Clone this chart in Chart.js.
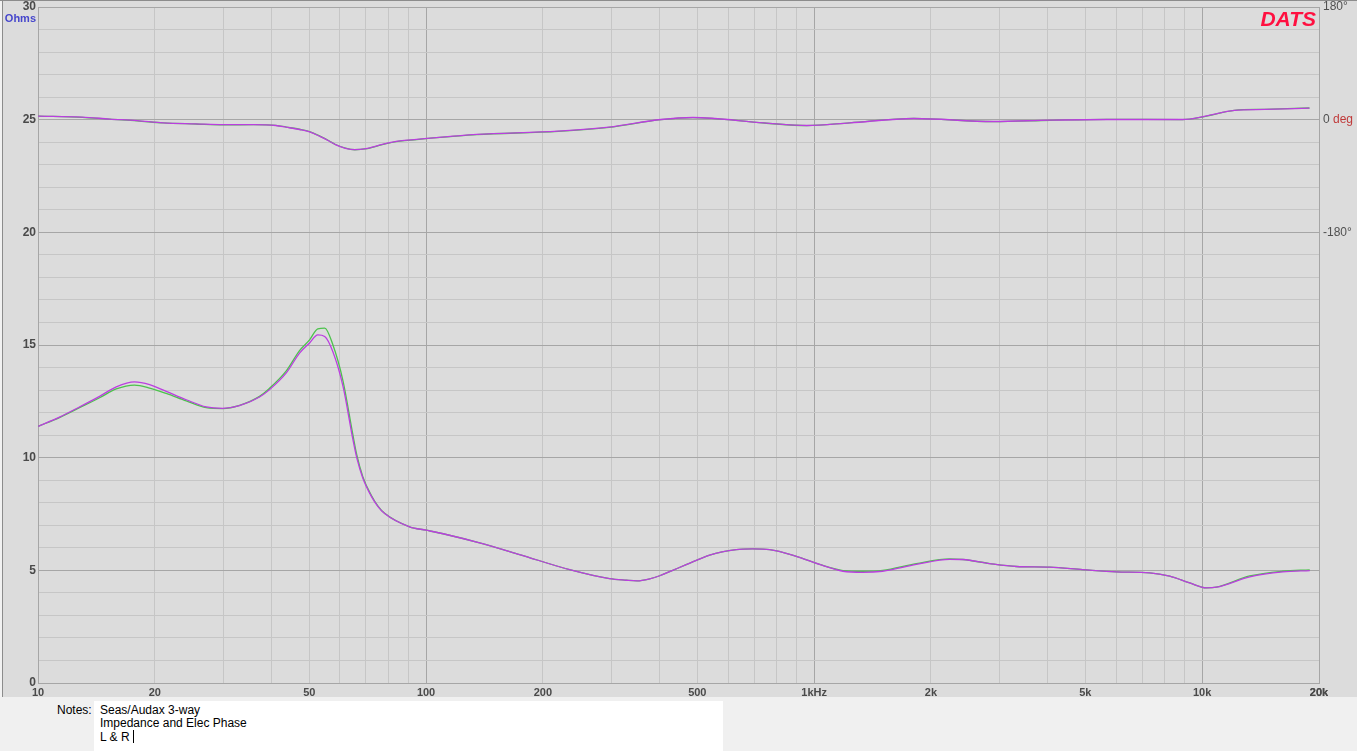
<!DOCTYPE html>
<html>
<head>
<meta charset="utf-8">
<title>Seas/Audax 3-way - Impedance and Elec Phase</title>
<script src="https://cdn.jsdelivr.net/npm/chart.js@4.4.0/dist/chart.umd.min.js"></script>
<style>
  html, body { margin: 0; padding: 0; background: #f0f0f0; }
  #chart-wrap { position: relative; width: 1357px; height: 697px; background: #dcdcdc; }
  #notes { position: relative; width: 1357px; height: 54px; font: 12px 'Liberation Sans', Arial, sans-serif; color: #000; }
  .notes-label { position: absolute; left: 57px; top: 7px; line-height: 13px; }
  .notes-box { position: absolute; left: 94px; top: 4px; width: 623px; height: 47px; background: #fff; padding: 3px 0 0 6px; line-height: 13px; }
  .caret { display: inline-block; width: 1px; height: 13px; background: #000; vertical-align: -2px; margin-left: 3px; }
</style>
</head>
<body>
<div id="chart-wrap"><canvas id="impChart"></canvas></div>
<div id="notes">
  <div class="notes-label">Notes:</div>
  <div class="notes-box">Seas/Audax 3-way<br>Impedance and Elec Phase<br>L &amp; R<span class="caret"></span></div>
</div>

<script>
/* ---------- Data ---------- */

// impedance sweep, Hz
const impFreq = [10, 11.36, 12.79, 14.41, 15.91, 17.73, 19.39, 21.4, 24.1, 27.14,
  29.95, 33.06, 37.23, 39.52, 43.63, 47.2, 50.1, 52.6, 54.8, 57.5,
  61.1, 64.8, 66.3, 68.7, 72.3, 75.1, 78.2, 90.7, 100.1, 112.7,
  137.4, 174.2, 234.4, 297, 328, 350, 375, 400, 432, 468,
  538, 630, 694, 768, 900, 1033, 1187, 1334, 1501, 1834,
  2235, 2418, 2834, 3319, 4046, 4920, 6010, 7322, 8247, 9286,
  10250, 10880, 13260, 16130, 18930];

// impedance, ohms (R = magenta, L = green)
const impRight = [11.39, 11.8, 12.25, 12.72, 13.14, 13.36, 13.24, 12.94, 12.57, 12.25,
  12.19, 12.31, 12.69, 13.02, 13.76, 14.64, 15.09, 15.45, 15.38, 14.71,
  13.16, 10.8, 9.99, 9.1, 8.28, 7.84, 7.52, 6.93, 6.78, 6.59,
  6.22, 5.7, 5.03, 4.63, 4.56, 4.53, 4.61, 4.76, 5.0, 5.25,
  5.68, 5.92, 5.95, 5.92, 5.62, 5.26, 4.96, 4.91, 4.96, 5.26,
  5.49, 5.48, 5.3, 5.17, 5.14, 5.03, 4.93, 4.89, 4.74, 4.44,
  4.22, 4.25, 4.71, 4.93, 4.99];
const impLeft = [11.39, 11.78, 12.22, 12.66, 13.05, 13.22, 13.09, 12.85, 12.52, 12.22,
  12.18, 12.32, 12.72, 13.08, 13.85, 14.75, 15.23, 15.72, 15.75, 15.02,
  13.4, 11.0, 10.12, 9.16, 8.32, 7.86, 7.53, 6.93, 6.78, 6.59,
  6.22, 5.7, 5.03, 4.63, 4.56, 4.53, 4.61, 4.76, 5.0, 5.25,
  5.68, 5.92, 5.95, 5.92, 5.62, 5.26, 4.99, 4.96, 5.0, 5.3,
  5.51, 5.48, 5.3, 5.17, 5.14, 5.03, 4.93, 4.89, 4.74, 4.44,
  4.22, 4.25, 4.75, 4.96, 5.02];

// electrical phase, degrees
const phaseFreq = [10, 13.0, 15.3, 18.0, 21.0, 25.5, 30.0, 36.0, 41.0, 43.6,
  47.2, 50.1, 53.1, 56.2, 58.4, 62.0, 65.5, 69.9, 77.1, 85.6,
  94.6, 104.5, 115.5, 135, 219, 296, 403, 487, 743, 958,
  1236, 1806, 2897, 4060, 5690, 8900, 10200, 12100, 14500, 18900];
const phaseRight = [5.6, 4.0, 1.0, -1.5, -5.0, -6.7, -8.0, -7.8, -9.3, -12.0,
  -15.7, -19.4, -26.3, -34.0, -40.0, -45.8, -47.8, -46.3, -39.5, -34.0,
  -31.6, -29.0, -26.8, -23.6, -18.4, -12.0, 0.3, 3.5, -5.1, -9.3,
  -5.1, 1.9, -2.9, -0.8, 0.3, 0.3, 5.6, 14.7, 16.3, 18.4];
const phaseLeft = [5.6, 3.8, 0.8, -1.8, -5.2, -6.9, -8.2, -8.0, -9.1, -11.8,
  -15.3, -19.0, -26.0, -33.7, -39.7, -45.5, -48.1, -46.8, -39.8, -34.3,
  -31.8, -29.2, -27.0, -23.9, -18.6, -12.2, 0.0, 3.3, -5.3, -9.6,
  -5.0, 2.2, -3.2, -1.0, 0.6, 0.2, 5.4, 14.9, 16.6, 18.6];

// axes
const xLabelValues = [10, 20, 50, 100, 200, 500, 1000, 2000, 5000, 10000, 20000];
const xLabelText = ['10', '20', '50', '100', '200', '500', '1kHz', '2k', '5k', '10k', '20k'];
const phaseTickValues = [-180, 0, 180];
const phaseTickText = ['-180°', '0', '180°'];

/* ---------- Helpers ---------- */

const FONT = "'Liberation Sans', Arial, sans-serif";
const GRID_MINOR = '#c6c6c6';
const GRID_MAJOR = '#a6a6a6';
const GREEN = '#4cc24c';
const MAGENTA = '#bb3ee0';

function toPoints(xs, ys) {
  return xs.map((x, i) => ({ x: x, y: ys[i] }));
}

// gridlines at 1..9 x each decade, plus the 20k edge
function freqGrid() {
  const out = [];
  for (let d = 10; d <= 10000; d *= 10) {
    for (let m = 1; m <= 9; m++) out.push(d * m);
  }
  out.push(20000);
  return out;
}

function isDecade(v) {
  const l = Math.log10(v);
  return Math.abs(l - Math.round(l)) < 1e-6;
}

// keep the plot box fixed: no extra room for half-labels at the ends
function noEdgePadding(scale) {
  scale.paddingTop = 0;
  scale.paddingBottom = 0;
  scale.paddingLeft = 0;
  scale.paddingRight = 0;
}

function lineSet(label, data, color, axis, order) {
  return {
    label: label,
    data: data,
    yAxisID: axis,
    borderColor: color,
    borderWidth: 1.3,
    pointRadius: 0,
    fill: false,
    cubicInterpolationMode: 'monotone',
    order: order,
  };
}

/* ---------- Extra text & frame ---------- */

const datsDecor = {
  id: 'datsDecor',
  beforeDraw(chart) {
    const ctx = chart.ctx;
    ctx.save();
    ctx.fillStyle = '#dcdcdc';
    ctx.fillRect(0, 0, chart.width, chart.height);
    ctx.fillStyle = '#f2f2f2';
    ctx.fillRect(0, 0, 2, chart.height);
    ctx.fillStyle = '#8c8c8c';
    ctx.fillRect(2, 0, 1, chart.height);
    ctx.fillRect(0, 0, chart.width, 1);
    ctx.restore();
  },
  afterDraw(chart) {
    const ctx = chart.ctx;
    const y1 = chart.scales.y1;
    ctx.save();
    // unit under the top ohm label
    ctx.font = 'bold 11px ' + FONT;
    ctx.fillStyle = '#4646cc';
    ctx.textAlign = 'right';
    ctx.textBaseline = 'alphabetic';
    ctx.fillText('Ohms', 36, 22);
    // logo
    ctx.font = 'italic bold 21px ' + FONT;
    ctx.fillStyle = '#ff1040';
    ctx.fillText('DATS', 1316, 26);
    // "deg" after the 0 on the phase axis
    ctx.font = '12px ' + FONT;
    const w0 = ctx.measureText('0 ').width;
    ctx.fillStyle = '#c03a3a';
    ctx.textAlign = 'left';
    ctx.textBaseline = 'middle';
    ctx.fillText('deg', y1.left + 4 + w0, y1.getPixelForValue(0));
    ctx.restore();
  },
};

/* ---------- Chart ---------- */

function initChart() {
  const ctx = document.getElementById('impChart').getContext('2d');
  new Chart(ctx, {
    type: 'line',
    data: {
      datasets: [
        lineSet('Impedance R', toPoints(impFreq, impRight), MAGENTA, 'y', 1),
        lineSet('Phase R', toPoints(phaseFreq, phaseRight), MAGENTA, 'y1', 1),
        lineSet('Impedance L', toPoints(impFreq, impLeft), GREEN, 'y', 2),
        lineSet('Phase L', toPoints(phaseFreq, phaseLeft), GREEN, 'y1', 2),
      ],
    },
    options: {
      responsive: true,
      maintainAspectRatio: false,
      animation: false,
      layout: { padding: { top: 7, left: 0, right: 0, bottom: 0 } },
      plugins: {
        legend: { display: false },
        tooltip: { enabled: false },
      },
      scales: {
        x: {
          type: 'logarithmic',
          min: 10,
          max: 20000,
          afterBuildTicks: scale => { scale.ticks = freqGrid().map(v => ({ value: v })); },
          afterFit: scale => { scale.height = 14; noEdgePadding(scale); },
          grid: {
            drawTicks: false,
            color: c => (isDecade(c.tick.value) || c.tick.value === 20000) ? GRID_MAJOR : GRID_MINOR,
          },
          border: { display: true, color: GRID_MAJOR },
          ticks: {
            autoSkip: false,
            maxRotation: 0,
            minRotation: 0,
            padding: 3,
            color: '#4a4a4a',
            font: { family: FONT, size: 11, weight: 'bold' },
            callback: v => {
              const i = xLabelValues.indexOf(v);
              return i >= 0 ? xLabelText[i] : '';
            },
          },
        },
        y: {
          position: 'left',
          min: 0,
          max: 30,
          afterBuildTicks: scale => {
            const t = [];
            for (let v = 0; v <= 30; v++) t.push({ value: v });
            scale.ticks = t;
          },
          afterFit: scale => { scale.width = 38; noEdgePadding(scale); },
          grid: {
            drawTicks: false,
            color: c => c.tick.value % 5 === 0 ? GRID_MAJOR : GRID_MINOR,
          },
          border: { display: true, color: GRID_MAJOR },
          ticks: {
            autoSkip: false,
            padding: 2,
            color: '#4a4a4a',
            font: { family: FONT, size: 12, weight: 'bold' },
            callback: v => v % 5 === 0 ? String(v) : '',
          },
        },
        y1: {
          position: 'right',
          min: -900,
          max: 180,
          afterBuildTicks: scale => { scale.ticks = phaseTickValues.map(v => ({ value: v })); },
          afterFit: scale => { scale.width = 38; noEdgePadding(scale); },
          grid: { drawOnChartArea: false, drawTicks: false },
          border: { display: true, color: GRID_MAJOR },
          ticks: {
            autoSkip: false,
            padding: 4,
            color: '#505050',
            font: { family: FONT, size: 12 },
            callback: v => {
              const i = phaseTickValues.indexOf(v);
              return i >= 0 ? phaseTickText[i] : '';
            },
          },
        },
      },
    },
    plugins: [datsDecor],
  });
}

document.addEventListener('DOMContentLoaded', initChart);
</script>
</body>
</html>
